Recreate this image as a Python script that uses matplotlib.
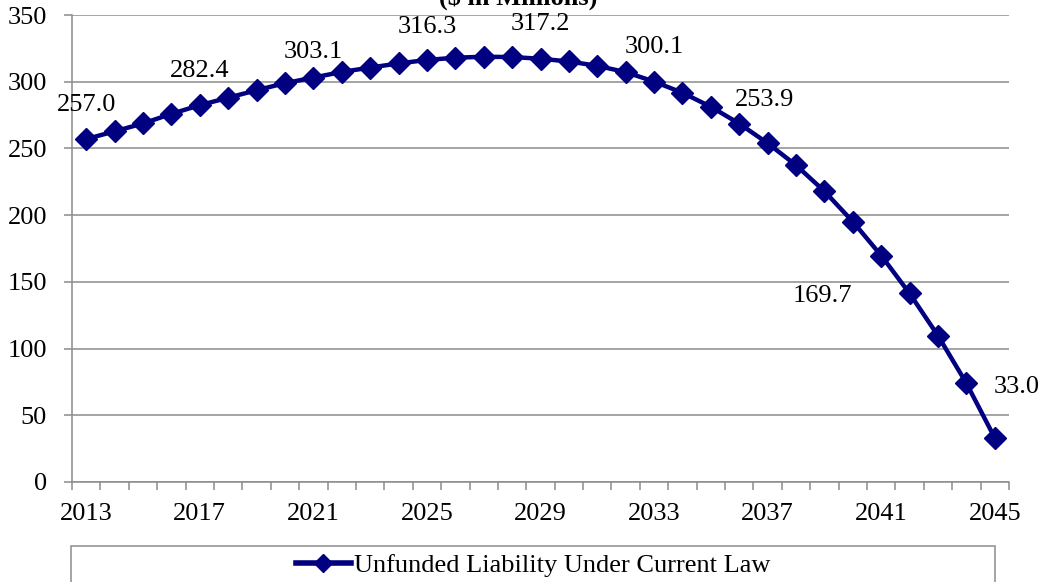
import matplotlib.pyplot as plt
from matplotlib.patches import Rectangle
from matplotlib.lines import Line2D

years = list(range(2013, 2046))
liability = [257.0, 262.8, 268.7, 275.9, 282.4, 288.0, 293.6, 298.9, 303.1,
             307.3, 310.6, 313.7, 316.3, 318.0, 318.7, 318.5, 317.2, 315.2,
             311.9, 307.2, 300.1, 291.7, 281.2, 268.6, 253.9, 237.4, 217.9,
             195.1, 169.7, 141.3, 109.6, 74.0, 33.0]

# which points get a value label, and where the label sits (pixels from the point)
label_years = [2013, 2017, 2021, 2025, 2029, 2033, 2037, 2041, 2045]
label_offsets = [(0, 34), (0, 34), (0, 26), (0, 33), (0, 35), (0, 35),
                 (-3, 43), (-59, -40), (22, 51)]

navy = '#000080'
grey = '#8c8c8c'
plt.rcParams['font.family'] = ['Liberation Serif', 'DejaVu Serif']

fig = plt.figure(figsize=(10.47, 5.82), dpi=100)
ax = fig.add_axes([72 / 1047, 100 / 582, 937 / 1047, 467 / 582])

ax.plot(years, liability, color=navy, lw=3.2, marker='D', ms=11.5,
        markeredgecolor=navy, markerfacecolor=navy, clip_on=False, zorder=3)

for yr, (dx, dy) in zip(label_years, label_offsets):
    v = liability[years.index(yr)]
    ax.annotate(f'{v:.1f}', (yr, v), xytext=(dx, dy), textcoords='offset pixels',
                ha='center', va='center', fontsize=19)

ax.set_xlim(2012.5, 2045.5)
ax.set_ylim(0, 350)
ax.set_yticks(range(0, 351, 50))
ax.set_xticks(range(2013, 2046, 4))
ax.set_xticks([y + 0.5 for y in range(2012, 2046)], minor=True)
ax.tick_params(axis='x', which='major', length=0, pad=15, labelsize=19)
ax.tick_params(axis='x', which='minor', length=5.5, color=grey, width=1.1)
ax.tick_params(axis='y', length=6, color=grey, width=1.1, pad=12, labelsize=19)

ax.grid(axis='y', color=grey, lw=1.1)
ax.set_axisbelow(True)
for side in ['top', 'right']:
    ax.spines[side].set_visible(False)
for side in ['left', 'bottom']:
    ax.spines[side].set_color(grey)
    ax.spines[side].set_linewidth(1.1)

fig.text(518 / 1047, 1 - 5 / 582, '($ in Millions)', ha='center',
         va='baseline', fontsize=19, fontweight='bold')

# legend box runs off the bottom edge of the figure
fig.patches.append(Rectangle((71 / 1047, -10 / 582), 924 / 1047, 46 / 582,
                             transform=fig.transFigure, fill=False,
                             edgecolor=grey, lw=1.1, clip_on=False))
handle = Line2D([], [], color=navy, lw=4, marker='D', ms=9)
fig.legend([handle], ['Unfunded Liability Under Current Law'],
           loc='center', bbox_to_anchor=(533 / 1047, 17 / 582), frameon=False,
           fontsize=19, handlelength=2.1, handletextpad=0.1)

fig.savefig('out.png', dpi=100)
